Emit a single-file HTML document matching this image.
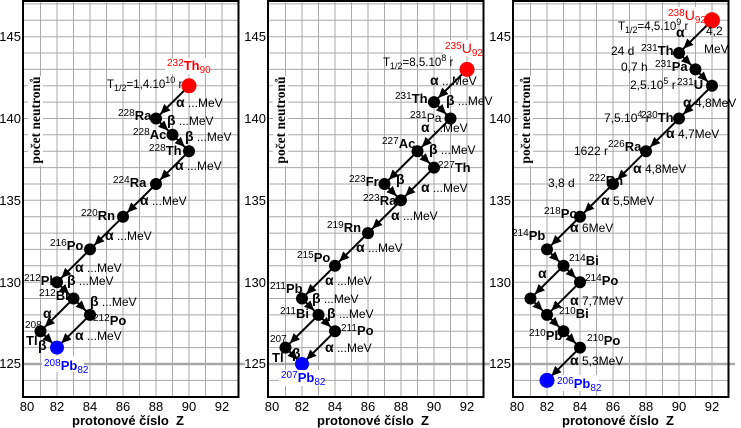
<!DOCTYPE html>
<html><head><meta charset="utf-8"><style>
body{margin:0;background:#fff}
svg{display:block}
text{font-family:"Liberation Sans",sans-serif;fill:#000}
.n{font-size:13px;font-weight:bold}
.sp{font-size:10px;font-weight:normal}
.g{font-size:14px;font-weight:bold}
.m{font-size:12px}
.t{font-size:13px;fill:#333}
.a{stroke:#000;stroke-width:2;marker-end:url(#ah)}
.gr{stroke:#a8a8a8;stroke-width:1}
</style></head><body>
<svg width="741" height="428" viewBox="0 0 741 428" xmlns="http://www.w3.org/2000/svg">
<defs>
<marker id="ah" markerUnits="userSpaceOnUse" markerWidth="20" markerHeight="12" viewBox="0 -6 20 12" refX="16" refY="0" orient="auto"><path d="M0,-4.5 L10,0 L0,4.5 Z" fill="#000"/></marker>
<g id="frame">
<rect x="23" y="1" width="215.5" height="396" fill="#fff"/>
<g class="gr">
<line x1="40.5" y1="1" x2="40.5" y2="397"/><line x1="57" y1="1" x2="57" y2="397"/><line x1="73.5" y1="1" x2="73.5" y2="397"/><line x1="90" y1="1" x2="90" y2="397"/><line x1="106.5" y1="1" x2="106.5" y2="397"/><line x1="123" y1="1" x2="123" y2="397"/><line x1="139.5" y1="1" x2="139.5" y2="397"/><line x1="156" y1="1" x2="156" y2="397"/><line x1="172.5" y1="1" x2="172.5" y2="397"/><line x1="189" y1="1" x2="189" y2="397"/><line x1="205.5" y1="1" x2="205.5" y2="397"/><line x1="222" y1="1" x2="222" y2="397"/>
<line x1="23" y1="380.4" x2="238" y2="380.4"/><line x1="23" y1="347.6" x2="238" y2="347.6"/><line x1="23" y1="331.3" x2="238" y2="331.3"/><line x1="23" y1="314.9" x2="238" y2="314.9"/><line x1="23" y1="298.5" x2="238" y2="298.5"/><line x1="23" y1="282.2" x2="238" y2="282.2"/><line x1="23" y1="265.8" x2="238" y2="265.8"/><line x1="23" y1="249.4" x2="238" y2="249.4"/><line x1="23" y1="233.1" x2="238" y2="233.1"/><line x1="23" y1="216.7" x2="238" y2="216.7"/><line x1="23" y1="200.3" x2="238" y2="200.3"/><line x1="23" y1="184" x2="238" y2="184"/><line x1="23" y1="167.6" x2="238" y2="167.6"/><line x1="23" y1="151.2" x2="238" y2="151.2"/><line x1="23" y1="134.8" x2="238" y2="134.8"/><line x1="23" y1="118.5" x2="238" y2="118.5"/><line x1="23" y1="102.1" x2="238" y2="102.1"/><line x1="23" y1="85.8" x2="238" y2="85.8"/><line x1="23" y1="69.4" x2="238" y2="69.4"/><line x1="23" y1="53" x2="238" y2="53"/><line x1="23" y1="36.7" x2="238" y2="36.7"/><line x1="23" y1="20.3" x2="238" y2="20.3"/><line x1="23" y1="3.9" x2="238" y2="3.9"/>
<line x1="23" y1="364" x2="245" y2="364" stroke-width="2.5"/>
</g>
<rect x="23" y="1" width="215.5" height="396" fill="none" stroke="#000" stroke-width="2"/>
<g class="t" text-anchor="end"><text x="21" y="41">145</text><text x="21" y="123">140</text><text x="21" y="205">135</text><text x="21" y="287">130</text><text x="21" y="368">125</text></g>
<g class="t" text-anchor="middle"><text x="27" y="411">80</text><text x="57" y="411">82</text><text x="90" y="411">84</text><text x="123" y="411">86</text><text x="156" y="411">88</text><text x="189" y="411">90</text><text x="222" y="411">92</text></g>
<text x="128" y="425" text-anchor="middle" style="font-size:13px;font-weight:bold">protonové číslo&#160;&#160;Z</text>
<rect x="28" y="76" width="15" height="90" fill="#fff"/>
<text transform="translate(40,120) rotate(-90)" text-anchor="middle" style="font-family:'Liberation Serif',serif;font-size:13.5px;font-weight:bold">počet neutronů</text>
</g>
</defs>

<!-- Panel 1 -->
<g>
<use href="#frame"/>
<line class="a" x1="189" y1="85.8" x2="156" y2="118.5"/><line class="a" x1="156" y1="118.5" x2="172.5" y2="134.8"/><line class="a" x1="172.5" y1="134.8" x2="189" y2="151.2"/><line class="a" x1="189" y1="151.2" x2="156" y2="184"/><line class="a" x1="156" y1="184" x2="123" y2="216.7"/><line class="a" x1="123" y1="216.7" x2="90" y2="249.4"/><line class="a" x1="90" y1="249.4" x2="57" y2="282.2"/><line class="a" x1="57" y1="282.2" x2="73.5" y2="298.5"/><line class="a" x1="73.5" y1="298.5" x2="90" y2="314.9"/><line class="a" x1="73.5" y1="298.5" x2="40.5" y2="331.3"/><line class="a" x1="90" y1="314.9" x2="57" y2="347.6"/><line class="a" x1="40.5" y1="331.3" x2="57" y2="347.6"/>
<circle cx="189" cy="85.8" r="7.5" fill="#f00"/>
<g fill="#000"><circle cx="156" cy="118.5" r="6"/><circle cx="172.5" cy="134.8" r="6"/><circle cx="189" cy="151.2" r="6"/><circle cx="156" cy="184" r="6"/><circle cx="123" cy="216.7" r="6"/><circle cx="90" cy="249.4" r="6"/><circle cx="57" cy="282.2" r="6"/><circle cx="73.5" cy="298.5" r="6"/><circle cx="90" cy="314.9" r="6"/><circle cx="40.5" cy="331.3" r="6"/></g>
<circle cx="57" cy="347.6" r="7" fill="#00f"/>
<rect x="165" y="58" width="42" height="16" fill="#fff"/>
<text x="167" y="70" class="n" style="fill:#f00"><tspan class="sp" style="fill:#f00" dy="-4">232</tspan><tspan dy="4">Th</tspan><tspan class="sp" style="fill:#f00" dy="3">90</tspan></text>
<text x="107" y="88" style="font-size:11.5px">T<tspan font-size="9" dy="3">1/2</tspan><tspan dy="-3">=1,4.10</tspan><tspan font-size="9" dy="-5">10</tspan><tspan dy="5"> r</tspan></text>
<text x="176" y="107"><tspan class="g">α</tspan><tspan class="m"> ...MeV</tspan></text>
<text x="118" y="120" class="n"><tspan class="sp" dy="-4">228</tspan><tspan dy="4">Ra</tspan></text>
<text x="167" y="125"><tspan class="g">β</tspan><tspan class="m">  ...MeV</tspan></text>
<text x="133" y="139" class="n"><tspan class="sp" dy="-4">228</tspan><tspan dy="4">Ac</tspan></text>
<text x="185" y="141"><tspan class="g">β</tspan><tspan class="m">  ...MeV</tspan></text>
<text x="149" y="155" class="n"><tspan class="sp" dy="-4">228</tspan><tspan dy="4">Th</tspan></text>
<text x="175" y="170"><tspan class="g">α</tspan><tspan class="m"> ...MeV</tspan></text>
<text x="113" y="187" class="n"><tspan class="sp" dy="-4">224</tspan><tspan dy="4">Ra</tspan></text>
<text x="140" y="205"><tspan class="g">α</tspan><tspan class="m"> ...MeV</tspan></text>
<text x="81" y="220" class="n"><tspan class="sp" dy="-4">220</tspan><tspan dy="4">Rn</tspan></text>
<text x="105" y="240"><tspan class="g">α</tspan><tspan class="m"> ...MeV</tspan></text>
<text x="50" y="250" class="n"><tspan class="sp" dy="-4">216</tspan><tspan dy="4">Po</tspan></text>
<text x="75" y="272"><tspan class="g">α</tspan><tspan class="m"> ...MeV</tspan></text>
<text x="24" y="285" class="n"><tspan class="sp" dy="-4">212</tspan><tspan dy="4">Pb</tspan></text>
<text x="67" y="285"><tspan class="g">β</tspan><tspan class="m"> ...MeV</tspan></text>
<text x="39" y="300" class="n"><tspan class="sp" dy="-4">212</tspan><tspan dy="4">Bi</tspan></text>
<text x="90" y="306"><tspan class="g">β</tspan><tspan class="m"> ...MeV</tspan></text>
<text x="93" y="325" class="n"><tspan class="sp" dy="-4">212</tspan><tspan dy="4">Po</tspan></text>
<text x="75" y="340"><tspan class="g">α</tspan><tspan class="m"> ...MeV</tspan></text>
<text x="43" y="318" class="g">α</text>
<text x="25" y="328" class="sp">208</text>
<text x="26" y="345" class="n">Tl</text>
<text x="38" y="350" class="g">β</text>
<rect x="42" y="356" width="42" height="16" fill="#fff"/>
<text x="44" y="370" class="n" style="fill:#00f"><tspan class="sp" style="fill:#00f" dy="-4">208</tspan><tspan dy="4">Pb</tspan><tspan class="sp" style="fill:#00f" dy="3">82</tspan></text>
</g>

<!-- Panel 2 -->
<g transform="translate(245,0)">
<use href="#frame"/>
<line class="a" x1="222" y1="69.4" x2="189" y2="102.1"/><line class="a" x1="189" y1="102.1" x2="205.5" y2="118.5"/><line class="a" x1="205.5" y1="118.5" x2="172.5" y2="151.2"/><line class="a" x1="172.5" y1="151.2" x2="189" y2="167.6"/><line class="a" x1="172.5" y1="151.2" x2="139.5" y2="184"/><line class="a" x1="189" y1="167.6" x2="156" y2="200.3"/><line class="a" x1="139.5" y1="184" x2="156" y2="200.3"/><line class="a" x1="156" y1="200.3" x2="123" y2="233.1"/><line class="a" x1="123" y1="233.1" x2="90" y2="265.8"/><line class="a" x1="90" y1="265.8" x2="57" y2="298.5"/><line class="a" x1="57" y1="298.5" x2="73.5" y2="314.9"/><line class="a" x1="73.5" y1="314.9" x2="90" y2="331.3"/><line class="a" x1="73.5" y1="314.9" x2="40.5" y2="347.6"/><line class="a" x1="90" y1="331.3" x2="57" y2="364"/><line class="a" x1="40.5" y1="347.6" x2="57" y2="364"/>
<circle cx="222" cy="69.4" r="7.5" fill="#f00"/>
<g fill="#000"><circle cx="189" cy="102.1" r="6"/><circle cx="205.5" cy="118.5" r="6"/><circle cx="172.5" cy="151.2" r="6"/><circle cx="189" cy="167.6" r="6"/><circle cx="139.5" cy="184" r="6"/><circle cx="156" cy="200.3" r="6"/><circle cx="123" cy="233.1" r="6"/><circle cx="90" cy="265.8" r="6"/><circle cx="57" cy="298.5" r="6"/><circle cx="73.5" cy="314.9" r="6"/><circle cx="90" cy="331.3" r="6"/><circle cx="40.5" cy="347.6" r="6"/></g>
<circle cx="57" cy="364" r="7" fill="#00f"/>
<rect x="198" y="40" width="38" height="16" fill="#fff"/>
<text x="200" y="53" class="n" style="fill:#f00;font-weight:normal;font-size:14px"><tspan class="sp" style="fill:#f00" dy="-4">235</tspan><tspan dy="4">U</tspan><tspan class="sp" style="fill:#f00" dy="3">92</tspan></text>
<text x="138" y="66" style="font-size:11.5px">T<tspan font-size="9" dy="3">1/2</tspan><tspan dy="-3">=8,5.10</tspan><tspan font-size="9" dy="-5">8</tspan><tspan dy="5"> r</tspan></text>
<text x="185" y="85"><tspan class="g">α</tspan><tspan class="m">  ...MeV</tspan></text>
<text x="150" y="103" class="n"><tspan class="sp" dy="-4">231</tspan><tspan dy="4">Th</tspan></text>
<text x="201" y="105"><tspan class="g">β</tspan><tspan class="m">  ...MeV</tspan></text>
<text x="165" y="122" class="m"><tspan class="sp" dy="-4">231</tspan><tspan dy="4">Pa</tspan></text>
<text x="176" y="132"><tspan class="g">α</tspan><tspan class="m">  ...MeV</tspan></text>
<text x="137" y="148" class="n"><tspan class="sp" dy="-4">227</tspan><tspan dy="4">Ac</tspan></text>
<text x="184" y="154"><tspan class="g">β</tspan><tspan class="m">  ...MeV</tspan></text>
<text x="193" y="172" class="n"><tspan class="sp" dy="-4">227</tspan><tspan dy="4">Th</tspan></text>
<text x="176" y="192"><tspan class="g">α</tspan><tspan class="m">  ...MeV</tspan></text>
<text x="104" y="186" class="n"><tspan class="sp" dy="-4">223</tspan><tspan dy="4">Fr</tspan></text>
<text x="151" y="184" class="g">β</text>
<text x="118" y="205" class="n"><tspan class="sp" dy="-4">223</tspan><tspan dy="4">Ra</tspan></text>
<text x="146" y="220"><tspan class="g">α</tspan><tspan class="m">  ...MeV</tspan></text>
<text x="82" y="232" class="n"><tspan class="sp" dy="-4">219</tspan><tspan dy="4">Rn</tspan></text>
<text x="111" y="252"><tspan class="g">α</tspan><tspan class="m">  ...MeV</tspan></text>
<text x="52" y="262" class="n"><tspan class="sp" dy="-4">215</tspan><tspan dy="4">Po</tspan></text>
<text x="80" y="285"><tspan class="g">α</tspan><tspan class="m">  ...MeV</tspan></text>
<text x="25" y="293" class="n"><tspan class="sp" dy="-4">211</tspan><tspan dy="4">Pb</tspan></text>
<text x="67" y="303"><tspan class="g">β</tspan><tspan class="m"> ...MeV</tspan></text>
<text x="35" y="318" class="n"><tspan class="sp" dy="-4">211</tspan><tspan dy="4">Bi</tspan></text>
<text x="82" y="318"><tspan class="g">β</tspan><tspan class="m"> ...MeV</tspan></text>
<text x="96" y="335" class="n"><tspan class="sp" dy="-4">211</tspan><tspan dy="4">Po</tspan></text>
<text x="80" y="352"><tspan class="g">α</tspan><tspan class="m">  ...MeV</tspan></text>
<text x="25" y="342" class="sp">207</text>
<text x="27" y="362" class="n">Tl</text>
<text x="47" y="358" class="g">β</text>
<rect x="34" y="370" width="44" height="16" fill="#fff"/>
<text x="36" y="382" class="n" style="fill:#00f"><tspan class="sp" style="fill:#00f" dy="-4">207</tspan><tspan dy="4">Pb</tspan><tspan class="sp" style="fill:#00f" dy="3">82</tspan></text>
</g>

<!-- Panel 3 -->
<g transform="translate(490,0)">
<use href="#frame"/>
<line class="a" x1="222" y1="20.3" x2="189" y2="53"/><line class="a" x1="189" y1="53" x2="205.5" y2="69.4"/><line class="a" x1="205.5" y1="69.4" x2="222" y2="85.8"/><line class="a" x1="222" y1="85.8" x2="189" y2="118.5"/><line class="a" x1="189" y1="118.5" x2="156" y2="151.2"/><line class="a" x1="156" y1="151.2" x2="123" y2="184"/><line class="a" x1="123" y1="184" x2="90" y2="216.7"/><line class="a" x1="90" y1="216.7" x2="57" y2="249.4"/><line class="a" x1="57" y1="249.4" x2="73.5" y2="265.8"/><line class="a" x1="73.5" y1="265.8" x2="90" y2="282.2"/><line class="a" x1="73.5" y1="265.8" x2="40.5" y2="298.5"/><line class="a" x1="90" y1="282.2" x2="57" y2="314.9"/><line class="a" x1="40.5" y1="298.5" x2="57" y2="314.9"/><line class="a" x1="57" y1="314.9" x2="73.5" y2="331.3"/><line class="a" x1="73.5" y1="331.3" x2="90" y2="347.6"/><line class="a" x1="90" y1="347.6" x2="57" y2="380.4"/>
<circle cx="222" cy="20.3" r="8" fill="#f00"/>
<g fill="#000"><circle cx="189" cy="53" r="6"/><circle cx="205.5" cy="69.4" r="6"/><circle cx="222" cy="85.8" r="6"/><circle cx="189" cy="118.5" r="6"/><circle cx="156" cy="151.2" r="6"/><circle cx="123" cy="184" r="6"/><circle cx="90" cy="216.7" r="6"/><circle cx="57" cy="249.4" r="6"/><circle cx="73.5" cy="265.8" r="6"/><circle cx="90" cy="282.2" r="6"/><circle cx="40.5" cy="298.5" r="6"/><circle cx="57" cy="314.9" r="6"/><circle cx="73.5" cy="331.3" r="6"/><circle cx="90" cy="347.6" r="6"/></g>
<circle cx="57" cy="380.4" r="7.5" fill="#00f"/>
<rect x="176" y="7" width="36" height="16" fill="#fff"/>
<text x="178" y="20" class="n" style="fill:#f00;font-weight:normal;font-size:14px"><tspan class="sp" style="fill:#f00" dy="-4">238</tspan><tspan dy="4">U</tspan><tspan class="sp" style="fill:#f00" dy="3">92</tspan></text>
<text x="128" y="30" style="font-size:11.5px">T<tspan font-size="9" dy="3">1/2</tspan><tspan dy="-3">=4,5.10</tspan><tspan font-size="9" dy="-5">9</tspan><tspan dy="5"> r</tspan></text>
<text x="186" y="37" class="g">α</text>
<text x="216" y="35" class="m">4,2</text><text x="214" y="53" class="m">MeV</text>
<text x="121" y="55" class="m">24 d</text>
<text x="151" y="55" class="n"><tspan class="sp" dy="-4">231</tspan><tspan dy="4">Th</tspan></text>
<text x="131" y="71" class="m">0,7 h</text>
<text x="165" y="71" class="n"><tspan class="sp" dy="-4">231</tspan><tspan dy="4">Pa</tspan></text>
<text x="140" y="89" class="m">2,5.10<tspan font-size="9" dy="-5">5</tspan><tspan dy="5"> r</tspan></text>
<text x="187" y="89" class="n"><tspan class="sp" dy="-4">231</tspan><tspan dy="4">U</tspan></text>
<text x="193" y="107"><tspan class="g">α</tspan><tspan class="m"> 4,8MeV</tspan></text>
<text x="114" y="122" class="m">7,5.10<tspan font-size="9" dy="-5">4</tspan><tspan dy="5"> r</tspan></text>
<text x="151" y="122" class="n"><tspan class="sp" dy="-4">230</tspan><tspan dy="4">Th</tspan></text>
<text x="176" y="138"><tspan class="g">α</tspan><tspan class="m">  4,7MeV</tspan></text>
<text x="84" y="155" class="m">1622 r</text>
<text x="118" y="151" class="n"><tspan class="sp" dy="-4">226</tspan><tspan dy="4">Ra</tspan></text>
<text x="143" y="173"><tspan class="g">α</tspan><tspan class="m">  4,8MeV</tspan></text>
<text x="58" y="187" class="m">3,8 d</text>
<text x="99" y="185" class="n"><tspan class="sp" dy="-4">222</tspan><tspan dy="4">Rn</tspan></text>
<text x="111" y="205"><tspan class="g">α</tspan><tspan class="m">  5,5MeV</tspan></text>
<text x="54" y="218" class="n"><tspan class="sp" dy="-4">218</tspan><tspan dy="4">Po</tspan></text>
<text x="80" y="232"><tspan class="g">α</tspan><tspan class="m">  6MeV</tspan></text>
<text x="22" y="240" class="n"><tspan class="sp" dy="-4">214</tspan><tspan dy="4">Pb</tspan></text>
<text x="79" y="265" class="n"><tspan class="sp" dy="-4">214</tspan><tspan dy="4">Bi</tspan></text>
<text x="48" y="278" class="g">α</text>
<text x="95" y="285" class="n"><tspan class="sp" dy="-4">214</tspan><tspan dy="4">Po</tspan></text>
<text x="80" y="305"><tspan class="g">α</tspan><tspan class="m">  7,7MeV</tspan></text>
<text x="69" y="318" class="n"><tspan class="sp" dy="-4">210</tspan><tspan dy="4">Bi</tspan></text>
<text x="39" y="340" class="n"><tspan class="sp" dy="-4">210</tspan><tspan dy="4">Pb</tspan></text>
<text x="97" y="345" class="n"><tspan class="sp" dy="-4">210</tspan><tspan dy="4">Po</tspan></text>
<text x="80" y="365"><tspan class="g">α</tspan><tspan class="m">  5,3MeV</tspan></text>
<rect x="65" y="375" width="44" height="16" fill="#fff"/>
<text x="67" y="388" class="n" style="fill:#00f"><tspan class="sp" style="fill:#00f" dy="-4">206</tspan><tspan dy="4">Pb</tspan><tspan class="sp" style="fill:#00f" dy="3">82</tspan></text>
</g>
</svg>
</body></html>
